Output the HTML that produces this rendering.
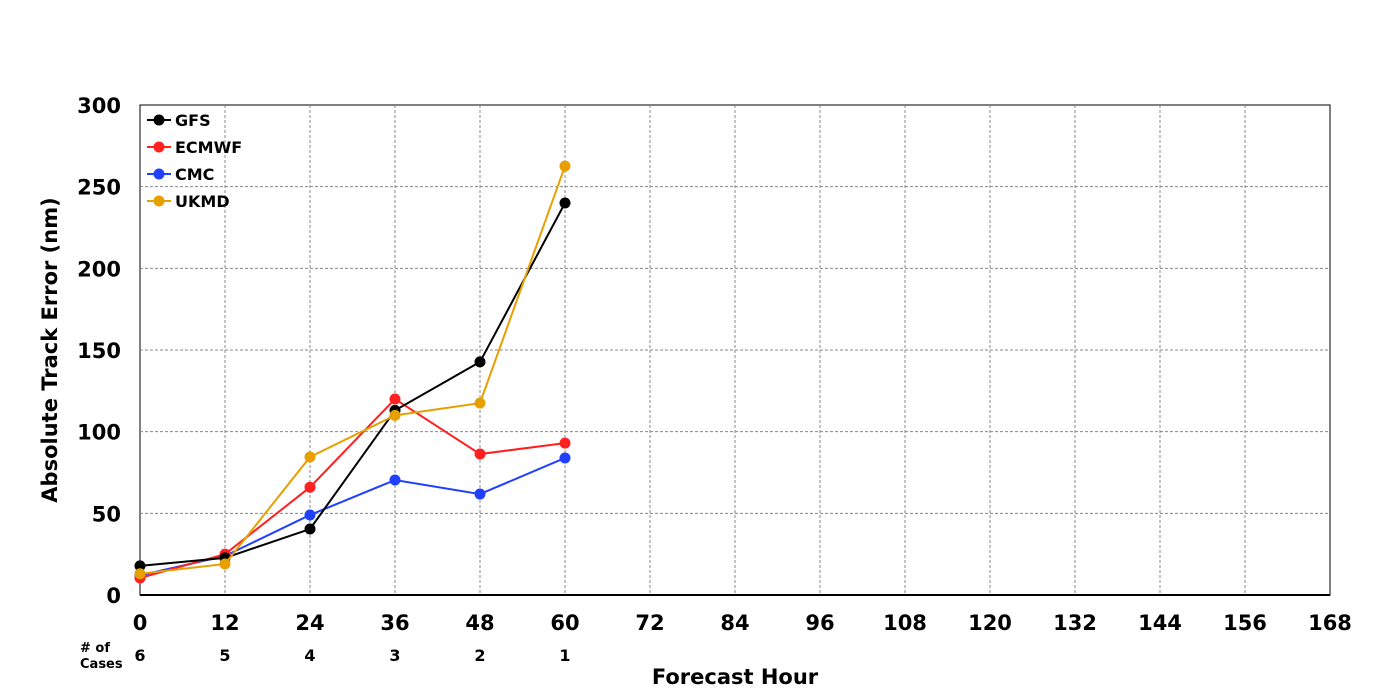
<!DOCTYPE html>
<html><head><meta charset="utf-8"><style>
html,body{margin:0;padding:0;background:#fff;width:1400px;height:700px;overflow:hidden;font-family:"Liberation Sans","DejaVu Sans",sans-serif}
</style></head><body>
<svg id="chart" width="1400" height="700" xmlns="http://www.w3.org/2000/svg" font-family="DejaVu Sans, Liberation Sans, sans-serif" font-weight="bold"></svg>
<script>
const hours = [0,12,24,36,48,60];
const cases = [6,5,4,3,2,1];
const xTicks = [0,12,24,36,48,60,72,84,96,108,120,132,144,156,168];
const yTicks = [0,50,100,150,200,250,300];
const seriesNames = ["GFS","ECMWF","CMC","UKMD"];
const seriesColors = ["#000000","#ff2020","#2040ff","#e8a000"];
const gfs = [17.8,22.7,40.4,113,142.7,240];
const ecmwf = [10.4,25,66,120,86.3,93];
const cmc = [12,23.9,49,70.4,61.8,83.9];
const ukmd = [13,19,84.5,110,117.5,262.6];
const allSeries = [ukmd,cmc,ecmwf,gfs];
const drawOrder = [3,2,1,0];

const svg = document.getElementById('chart');
const NS = 'http://www.w3.org/2000/svg';
const L=140,R=1330,T=105,B=595;
const xs = v => L + (v-0)/(168-0)*(R-L);
const ys = v => B - v/300*(B-T);
function mk(tag, attrs){const e=document.createElementNS(NS,tag);for(const k in attrs)e.setAttribute(k,attrs[k]);svg.appendChild(e);return e;}

const frame = mk('rect',{x:L,y:T,width:R-L,height:B-T,fill:'none',stroke:'#000','stroke-width':1});



xTicks.forEach(t=>{
  if(t>0&&t<168){const g=mk('line',{x1:xs(t),x2:xs(t),y1:T,y2:B,stroke:'#888','stroke-dasharray':'3,2','stroke-width':1});
  
  }
  const tx=mk('text',{x:xs(t),y:630,'text-anchor':'middle','font-size':21,fill:'#000'});tx.textContent=t;
  
  
});
yTicks.forEach(t=>{
  if(t>0&&t<300){const g=mk('line',{x1:L,x2:R,y1:ys(t),y2:ys(t),stroke:'#888','stroke-dasharray':'3,2','stroke-width':1});
  
  }
  const tx=mk('text',{x:121,y:ys(t)+8,'text-anchor':'end','font-size':21,fill:'#000'});tx.textContent=t;
  
  
});
const xa=mk('line',{x1:L,x2:R,y1:B,y2:B,stroke:'#000','stroke-width':2});



cases.forEach((c,i)=>{
  const tx=mk('text',{x:xs(hours[i]),y:661,'text-anchor':'middle','font-size':16,fill:'#000'});tx.textContent=c;
  
  
});
const c1=mk('text',{x:80,y:652,'font-size':13,fill:'#000'});c1.textContent='# of';


const c2=mk('text',{x:80,y:668,'font-size':13,fill:'#000'});c2.textContent='Cases';



const xt=mk('text',{x:735,y:684,'text-anchor':'middle','font-size':21,fill:'#000'});xt.textContent='Forecast Hour';


const yt=mk('text',{x:0,y:0,'text-anchor':'middle','font-size':21,fill:'#000',transform:'translate(57,350) rotate(-90)'});yt.textContent='Absolute Track Error (nm)';



const byName=[gfs,ecmwf,cmc,ukmd];
[2,1,0,3].forEach(si=>{
  const vals=byName[si], col=seriesColors[si];
  const pts=vals.map((v,i)=>xs(hours[i])+','+ys(v)).join(' ');
  const pl=mk('polyline',{points:pts,fill:'none',stroke:col,'stroke-width':2});
  
  
  vals.forEach((v,i)=>{
    const c=mk('circle',{cx:xs(hours[i]),cy:ys(v),r:5.5,fill:col});
    
    
  });
});

seriesNames.forEach((n,i)=>{
  const y=120+i*27;
  const ln=mk('line',{x1:147,x2:171,y1:y,y2:y,stroke:seriesColors[i],'stroke-width':2});
  
  
  const c=mk('circle',{cx:159,cy:y,r:5.5,fill:seriesColors[i]});
  
  
  const t=mk('text',{x:175,y:y+6,'font-size':16,fill:'#000'});t.textContent=n;
  
  
});
</script>
</body></html>
